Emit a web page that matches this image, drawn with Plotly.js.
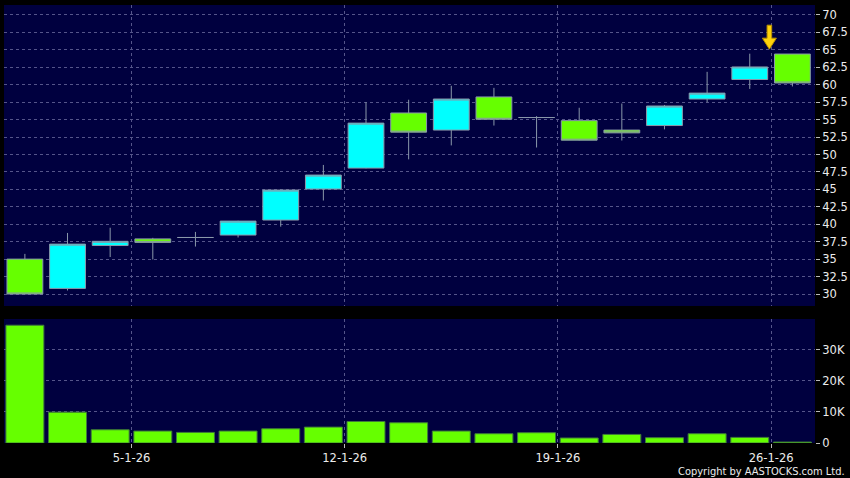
<!DOCTYPE html>
<html>
<head>
<meta charset="utf-8">
<script src="https://cdn.plot.ly/plotly-3.0.1.min.js"></script>
<style>
  html, body { margin: 0; padding: 0; background: #000000; }
  #chart { width: 850px; height: 478px; }
</style>
</head>
<body>
<div id="chart"></div>
<script>
// Trading days (d-m-yy)
const dates = ['30-12-25','31-12-25','2-1-26','5-1-26','6-1-26','7-1-26','8-1-26','9-1-26',
               '12-1-26','13-1-26','14-1-26','15-1-26','16-1-26','19-1-26','20-1-26','21-1-26',
               '22-1-26','23-1-26','26-1-26'];
const openP  = [35.0, 30.8, 36.95, 37.9, 38.1, 38.45, 40.6, 45.05, 48.05, 55.95, 53.5, 58.25, 55.3, 54.85, 53.5, 54.15, 57.95, 60.75, 64.4];
const highP  = [35.75, 38.75, 39.5, 38.05, 38.9, 40.5, 44.95, 48.5, 57.5, 57.85, 59.85, 59.55, 55.5, 56.7, 57.3, 57.1, 61.85, 64.45, 64.4];
const lowP   = [29.95, 30.5, 35.3, 34.95, 36.8, 38.1, 39.65, 43.4, 48.0, 49.3, 51.3, 54.15, 51.0, 52.0, 52.0, 53.6, 57.5, 59.4, 59.75];
const closeP = [30.0, 37.15, 37.55, 37.4, 38.1, 40.45, 44.9, 47.05, 54.5, 53.2, 57.95, 55.05, 55.3, 52.05, 53.1, 56.95, 58.8, 62.55, 60.25];
const volume = [37800, 9900, 4250, 3830, 3400, 3830, 4570, 5100, 6900, 6500, 3830, 2970, 3300, 1600, 2750, 1700, 2970, 1800, 300];

const tickLabels = ['5-1-26', '12-1-26', '19-1-26', '26-1-26'];
const priceTicks = [30, 32.5, 35, 37.5, 40, 42.5, 45, 47.5, 50, 52.5, 55, 57.5, 60, 62.5, 65, 67.5, 70];
const volTickVals = [0, 10000, 20000, 30000];
const volTickText = ['0', '10K', '20K', '30K'];
const markerDate = '26-1-26';

const xs = dates.map((d, i) => i);
const tickVals = tickLabels.map(t => dates.indexOf(t) - 0.5);

const navy = '#00003f';
const gridCol = '#55558a';
const gridDash = '3px,3px';
const txtCol = '#ececec';
const tickFont = { family: 'DejaVu Sans', size: 11.5, color: txtCol };

const candle = {
  type: 'candlestick',
  x: xs, open: openP, high: highP, low: lowP, close: closeP,
  text: dates,
  xaxis: 'x', yaxis: 'y',
  whiskerwidth: 0,
  increasing: { fillcolor: '#00ffff', line: { color: '#8a98aa', width: 1 } },
  decreasing: { fillcolor: '#66ff00', line: { color: '#8a98aa', width: 1 } },
  showlegend: false
};

const vol = {
  type: 'bar',
  x: xs, y: volume, text: dates, textposition: 'none',
  xaxis: 'x2', yaxis: 'y2',
  marker: { color: '#66ff00', line: { color: '#3f7a3a', width: 1 } },
  showlegend: false
};

const xr = [-0.49, 18.53];

const layout = {
  width: 850, height: 478,
  paper_bgcolor: '#000000',
  plot_bgcolor: navy,
  margin: { l: 4, r: 35, t: 5, b: 35 },
  boxgap: 0.16, boxgroupgap: 0,
  bargap: 0.11,
  showlegend: false,
  xaxis: {
    domain: [0, 1], anchor: 'y', range: xr,
    rangeslider: { visible: false },
    tickmode: 'array', tickvals: tickVals, ticktext: tickLabels,
    showticklabels: false, ticks: '',
    showgrid: true, gridcolor: gridCol, griddash: gridDash, gridwidth: 1,
    zeroline: false, showline: false
  },
  yaxis: {
    domain: [0.3128, 1], anchor: 'x', side: 'right',
    range: [28.28, 71.43],
    tickmode: 'array', tickvals: priceTicks,
    ticks: 'outside', ticklen: 4, tickcolor: '#bbbbbb', tickwidth: 1,
    tickfont: tickFont,
    showgrid: true, gridcolor: gridCol, griddash: gridDash, gridwidth: 1,
    zeroline: false, showline: false
  },
  xaxis2: {
    domain: [0, 1], anchor: 'y2', range: xr, matches: 'x',
    tickmode: 'array', tickvals: tickVals, ticktext: tickLabels,
    ticks: 'outside', ticklen: 4, tickcolor: '#bbbbbb',
    tickfont: tickFont,
    showgrid: true, gridcolor: gridCol, griddash: gridDash, gridwidth: 1,
    zeroline: false, showline: false
  },
  yaxis2: {
    domain: [0, 0.2831], anchor: 'x2', side: 'right',
    range: [0, 39800],
    tickmode: 'array', tickvals: volTickVals, ticktext: volTickText,
    ticks: 'outside', ticklen: 4, tickcolor: '#bbbbbb',
    tickfont: tickFont,
    showgrid: true, gridcolor: gridCol, griddash: gridDash, gridwidth: 1,
    zeroline: false, showline: false
  },
  shapes: [{
    type: 'path', xref: 'x', yref: 'y',
    xsizemode: 'pixel', ysizemode: 'pixel',
    xanchor: dates.indexOf(markerDate) - 0.54,
    yanchor: highP[dates.indexOf(markerDate)] + 0.7,
    path: 'M 0 0 L -7 11 L -2.3 11 L -2.3 24 L 2.3 24 L 2.3 11 L 7 11 Z',
    fillcolor: '#ffd20a', line: { color: '#b89000', width: 1 }
  }],
  annotations: [{
    xref: 'paper', yref: 'paper', x: 1.039, y: -0.064,
    xanchor: 'right', yanchor: 'middle', showarrow: false,
    text: 'Copyright by AASTOCKS.com Ltd.',
    font: { family: 'DejaVu Sans Condensed', size: 11, color: txtCol }
  }]
};

Plotly.newPlot('chart', [candle, vol], layout, { displayModeBar: false, staticPlot: true });
</script>
</body>
</html>
